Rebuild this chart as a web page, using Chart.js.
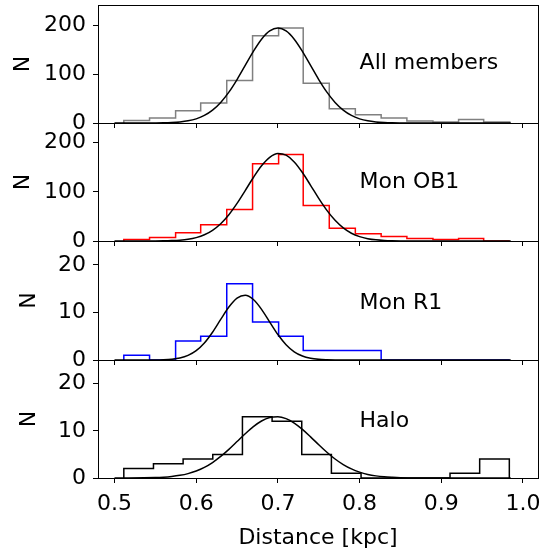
<!DOCTYPE html>
<html>
<head>
<meta charset="utf-8">
<script src="https://cdn.jsdelivr.net/npm/chart.js@4.4.1/dist/chart.umd.min.js"></script>
<style>
  html, body { margin: 0; padding: 0; background: #fff; }
  #wrap { position: relative; width: 546px; height: 551px; }
  #wrap canvas { position: absolute; left: 0; top: 0; }
</style>
</head>
<body>
<div id="wrap">
  <canvas id="c0" width="546" height="551"></canvas>
  <canvas id="c1" width="546" height="551"></canvas>
  <canvas id="c2" width="546" height="551"></canvas>
  <canvas id="c3" width="546" height="551"></canvas>
</div>
<script>
// bin edges [kpc]
const edgesMain = [0.5114, 0.5429, 0.5748, 0.6055, 0.6374, 0.6690, 0.7009, 0.7310, 0.7629, 0.7948, 0.8264, 0.8579, 0.8898, 0.9212, 0.9519, 0.9838];
const edgesHalo = [0.5114, 0.5477, 0.5840, 0.6203, 0.6566, 0.6929, 0.7292, 0.7655, 0.8018, 0.8381, 0.8744, 0.9107, 0.9470, 0.9833];

// histogram counts
const countsAll  = [5, 10, 25, 41, 87, 178, 194, 81, 29, 17, 10, 4, 2, 7, 2];
const countsOB1  = [3, 7, 17, 33, 64, 157, 176, 72, 26, 15, 9, 5, 3, 5, 0];
const countsR1   = [1, 0, 4, 5, 16, 8, 5, 2, 2, 2, 0, 0, 0, 0, 0];
const countsHalo = [2, 3, 4, 5, 13, 12, 5, 1, 0, 0, 0, 1, 4];

// gaussian fits
const fitX    = [0.50, 0.55, 0.56, 0.57, 0.58, 0.59, 0.60, 0.61, 0.62, 0.63, 0.64, 0.65, 0.66, 0.67, 0.68, 0.69, 0.70, 0.71, 0.72, 0.73, 0.74, 0.75, 0.76, 0.77, 0.78, 0.79, 0.80, 0.81, 0.82, 0.83, 0.84, 0.85, 0.90, 0.985];
const fitAll  = [0, 0.2, 0.4, 1.0, 2.2, 4.4, 8.5, 15.4, 26.3, 42.0, 63.0, 88.8, 117.7, 146.4, 171.2, 188.0, 194.0, 188.0, 171.2, 146.4, 117.7, 88.8, 63.0, 42.0, 26.3, 15.4, 8.5, 4.4, 2.2, 1.0, 0.4, 0.2, 0, 0];
const fitOB1  = [0, 0.1, 0.3, 0.8, 1.7, 3.5, 6.9, 12.6, 21.8, 35.2, 53.5, 76.5, 102.6, 129.2, 153.0, 170.2, 177.8, 174.5, 160.9, 139.3, 113.3, 86.6, 62.2, 42.0, 26.6, 15.8, 8.9, 4.7, 2.3, 1.1, 0.5, 0.2, 0, 0];
const fitR1   = [0, 0.02, 0.06, 0.17, 0.42, 0.97, 1.97, 3.58, 5.84, 8.52, 11.13, 13.0, 13.6, 12.7, 10.64, 7.97, 5.35, 3.21, 1.72, 0.83, 0.36, 0.14, 0.05, 0.01, 0, 0, 0, 0, 0, 0, 0, 0, 0, 0];
const fitHalo = [0, 0.09, 0.17, 0.32, 0.56, 0.93, 1.48, 2.25, 3.28, 4.57, 6.07, 7.72, 9.38, 10.89, 12.08, 12.81, 12.99, 12.58, 11.65, 10.31, 8.72, 7.05, 5.45, 4.02, 2.84, 1.92, 1.24, 0.76, 0.45, 0.25, 0.14, 0.07, 0, 0];

const xTicks = [0.5, 0.6, 0.7, 0.8, 0.9, 1.0];
const yTicksBig = [0, 100, 200];
const yTicksSmall = [0, 10, 20];
const groupNames = ['All members', 'Mon OB1', 'Mon R1', 'Halo'];

const FONT = 'DejaVu Sans';
const W = 546, H = 551;
const X_MIN = 0.4798, X_MAX = 1.0184;

// textY = baseline of the group name, px below the top of the axes
const panels = [
  { edges: edgesMain, counts: countsAll,  fit: fitAll,  color: '#808080', yMax: 241, yTicks: yTicksBig,   top: 5,   bottom: 123, padLeft: 10, textY: 64 },
  { edges: edgesMain, counts: countsOB1,  fit: fitOB1,  color: '#ff0000', yMax: 240, yTicks: yTicksBig,   top: 123, bottom: 241, padLeft: 10, textY: 65 },
  { edges: edgesMain, counts: countsR1,   fit: fitR1,   color: '#0000ff', yMax: 25,  yTicks: yTicksSmall, top: 241, bottom: 360, padLeft: 16, textY: 68 },
  { edges: edgesHalo, counts: countsHalo, fit: fitHalo, color: '#000000', yMax: 25,  yTicks: yTicksSmall, top: 360, bottom: 478, padLeft: 16, textY: 66.5 },
];

// matplotlib-style step outline
function stepPoints(edges, counts) {
  const pts = [{ x: edges[0], y: 0 }];
  counts.forEach((c, i) => {
    pts.push({ x: edges[i], y: c });
    pts.push({ x: edges[i + 1], y: c });
  });
  pts.push({ x: edges[counts.length], y: 0 });
  return pts;
}

function align(p) { return Math.round(p - 0.5) + 0.5; }

function noPad(s) {
  s.paddingTop = 0;
  s.paddingBottom = 0;
  s.paddingLeft = 0;
  s.paddingRight = 0;
}

// box round the axes + group name
const framePlugin = {
  id: 'frame',
  afterDatasetsDraw(chart, args, opts) {
    const { ctx, chartArea: a } = chart;
    ctx.save();
    ctx.strokeStyle = '#000';
    ctx.lineWidth = 1;
    const l = align(a.left), r = align(a.right), t = align(a.top), b = align(a.bottom);
    ctx.strokeRect(l, t, r - l, b - t);
    ctx.fillStyle = '#000';
    ctx.font = '22px "' + FONT + '"';
    ctx.textBaseline = 'alphabetic';
    ctx.textAlign = 'left';
    ctx.fillText(opts.text, chart.scales.x.getPixelForValue(0.8), a.top + opts.y);
    ctx.restore();
  }
};

panels.forEach((p, i) => {
  const last = i === panels.length - 1;
  const xh = last ? 73 : 5;
  const font = { family: FONT, size: 22 };

  new Chart(document.getElementById('c' + i), {
    type: 'line',
    data: {
      datasets: [
        {
          data: fitX.map((x, k) => ({ x: x, y: p.fit[k] })),
          borderColor: '#000',
          borderWidth: 1.5,
          pointRadius: 0,
          cubicInterpolationMode: 'monotone',
          fill: false
        },
        {
          data: stepPoints(p.edges, p.counts),
          borderColor: p.color,
          borderWidth: 1.5,
          pointRadius: 0,
          tension: 0,
          fill: false
        }
      ]
    },
    options: {
      responsive: false,
      animation: false,
      devicePixelRatio: 1,
      events: [],
      layout: {
        autoPadding: false,
        padding: { left: p.padLeft, right: W - 538, top: p.top, bottom: H - p.bottom - xh }
      },
      plugins: {
        legend: { display: false },
        tooltip: { enabled: false },
        frame: { text: groupNames[i], y: p.textY }
      },
      scales: {
        x: {
          type: 'linear',
          min: X_MIN,
          max: X_MAX,
          afterBuildTicks: s => { s.ticks = xTicks.map(v => ({ value: v })); },
          afterFit: s => { s.height = xh; noPad(s); },
          grid: { drawOnChartArea: false, tickLength: 5, tickColor: '#000', tickWidth: 1 },
          border: { color: '#000', width: 1 },
          ticks: {
            display: last,
            color: '#000',
            font: font,
            padding: 8,
            maxRotation: 0,
            autoSkip: false,
            callback: v => v.toFixed(1)
          },
          title: { display: last, text: 'Distance [kpc]', color: '#000', font: font, padding: 0 }
        },
        y: {
          min: 0,
          max: p.yMax,
          afterBuildTicks: s => { s.ticks = p.yTicks.map(v => ({ value: v })); },
          afterFit: s => { s.width = 98 - p.padLeft; noPad(s); },
          grid: { drawOnChartArea: false, tickLength: 5, tickColor: '#000', tickWidth: 1 },
          border: { color: '#000', width: 1 },
          ticks: { color: '#000', font: font, padding: 7, autoSkip: false },
          title: { display: true, text: 'N', color: '#000', font: font, padding: 0 }
        }
      }
    },
    plugins: [framePlugin]
  });
});
</script>
</body>
</html>
